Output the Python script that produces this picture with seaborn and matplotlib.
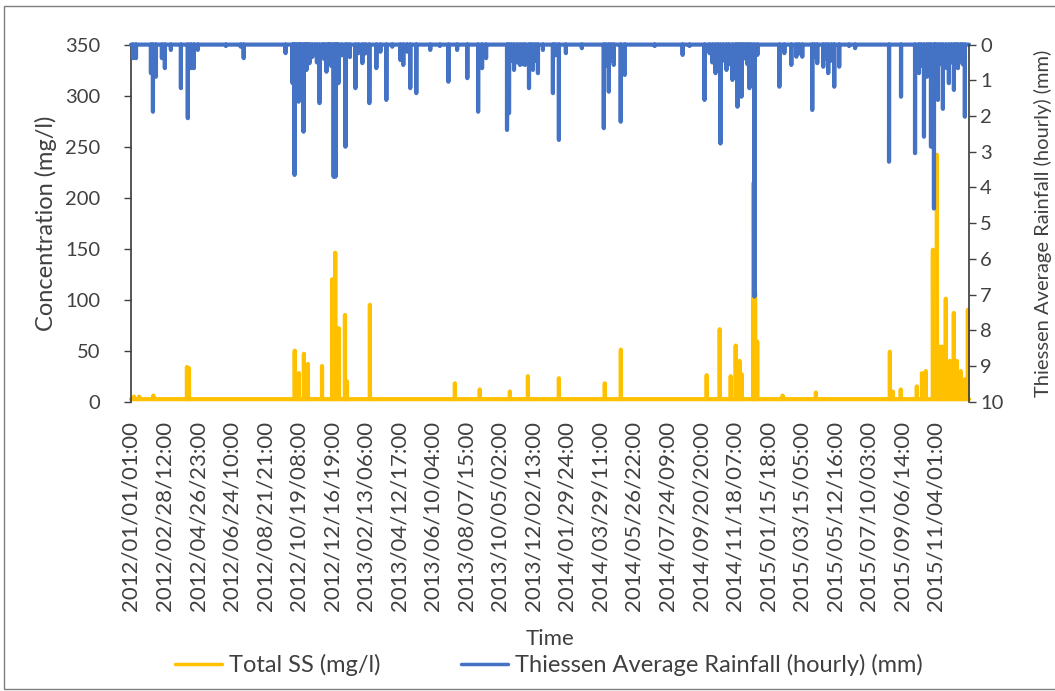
import numpy as np
import pandas as pd
import matplotlib
matplotlib.use("Agg")
import matplotlib.pyplot as plt
from matplotlib.lines import Line2D
from matplotlib.patches import Rectangle
import seaborn as sns

# Hourly record: 2012/01/01 01:00 through 2015/12/31 24:00
RECORD_START = "2012-01-01 01:00"
RECORD_HOURS = 35064
LABEL_STEP = 1403            # one time label every 1403 hourly records

# Dry-weather suspended solids level (mg/l)
ss_base = 2.5

# Thiessen average rainfall, wet hours (mm)
rain_times = [
    "2012-01-04 12:00", "2012-01-09 17:00", "2012-02-04 19:00", "2012-02-08 07:00",
    "2012-02-13 12:00", "2012-02-23 22:00", "2012-02-29 02:00", "2012-03-10 14:00",
    "2012-03-28 01:00", "2012-04-09 02:00", "2012-04-14 07:00", "2012-04-19 14:00",
    "2012-04-26 12:00", "2012-06-14 10:00", "2012-07-10 10:00", "2012-07-15 12:00",
    "2012-09-26 12:00", "2012-10-08 17:00", "2012-10-12 05:00", "2012-10-19 05:00",
    "2012-10-24 10:00", "2012-10-27 19:00", "2012-11-02 01:00", "2012-11-07 07:00",
    "2012-11-16 06:00", "2012-11-24 17:00", "2012-11-29 22:00", "2012-12-06 19:00",
    "2012-12-12 08:00", "2012-12-19 08:00", "2012-12-22 12:00", "2012-12-27 17:00",
    "2013-01-08 22:00", "2013-01-12 10:00", "2013-01-26 07:00", "2013-01-31 12:00",
    "2013-02-07 10:00", "2013-02-19 14:00", "2013-03-03 19:00", "2013-03-10 19:00",
    "2013-03-21 05:00", "2013-03-31 14:00", "2013-04-14 12:00", "2013-04-19 17:00",
    "2013-05-01 22:00", "2013-05-12 10:00", "2013-06-05 17:00", "2013-06-22 12:00",
    "2013-07-07 09:00", "2013-07-22 14:00", "2013-08-09 09:00", "2013-08-28 05:00",
    "2013-09-04 02:00", "2013-09-11 02:00", "2013-10-17 14:00", "2013-10-21 02:00",
    "2013-10-29 19:00", "2013-11-09 05:00", "2013-11-17 22:00", "2013-11-24 22:00",
    "2013-12-01 19:00", "2013-12-10 12:00", "2013-12-19 05:00", "2014-01-05 14:00",
    "2014-01-16 01:00", "2014-01-28 05:00", "2014-02-25 01:00", "2014-04-04 07:00",
    "2014-04-13 01:00", "2014-04-21 17:00", "2014-05-03 19:00", "2014-05-10 19:00",
    "2014-07-02 01:00", "2014-08-19 17:00", "2014-08-31 19:00", "2014-09-26 22:00",
    "2014-10-05 14:00", "2014-10-16 01:00", "2014-10-24 17:00", "2014-11-04 05:00",
    "2014-11-14 14:00", "2014-11-19 19:00", "2014-11-23 07:00", "2014-11-30 07:00",
    "2014-12-07 05:00", "2014-12-14 05:00", "2014-12-22 22:00", "2014-12-28 02:00",
    "2015-02-04 10:00", "2015-02-13 02:00", "2015-02-25 05:00", "2015-03-05 22:00",
    "2015-03-16 07:00", "2015-04-02 17:00", "2015-04-11 10:00", "2015-04-21 22:00",
    "2015-04-30 14:00", "2015-05-11 01:00", "2015-05-19 17:00", "2015-06-06 01:00",
    "2015-06-16 12:00", "2015-08-14 14:00", "2015-09-04 12:00", "2015-09-28 22:00",
    "2015-10-05 19:00", "2015-10-14 12:00", "2015-10-19 17:00", "2015-10-26 17:00",
    "2015-10-31 22:00", "2015-11-07 19:00", "2015-11-16 12:00", "2015-11-26 22:00",
    "2015-12-05 17:00", "2015-12-12 14:00", "2015-12-24 19:00",
    # lighter showers inside the wet spells
    "2012-10-10 03:00", "2012-10-15 09:00", "2012-10-21 16:00", "2012-10-30 08:00",
    "2012-11-04 20:00", "2012-11-11 13:00", "2012-11-20 04:00", "2012-12-02 11:00",
    "2012-12-09 23:00", "2012-12-15 06:00", "2012-12-24 18:00", "2013-01-02 09:00",
    "2013-01-16 14:00", "2013-02-12 08:00", "2013-04-26 15:00", "2013-10-25 11:00",
    "2013-11-04 07:00", "2013-11-13 18:00", "2013-11-28 04:00", "2013-12-06 13:00",
    "2014-01-09 20:00", "2014-04-08 10:00", "2014-04-17 03:00", "2014-10-10 12:00",
    "2014-10-20 06:00", "2014-10-29 21:00", "2014-11-08 10:00", "2014-11-26 15:00",
    "2014-12-03 09:00", "2014-12-10 18:00", "2014-12-18 04:00", "2015-03-10 11:00",
    "2015-04-06 14:00", "2015-04-26 02:00", "2015-05-06 09:00", "2015-10-09 16:00",
    "2015-10-23 05:00", "2015-11-03 11:00", "2015-11-12 04:00", "2015-11-21 20:00",
    "2015-12-01 07:00", "2015-12-09 10:00", "2015-12-17 12:00", "2015-12-20 22:00",
]
rain_mm = [
    0.38, 0.38, 0.80, 1.88,
    0.90, 0.38, 0.66, 0.15,
    1.22, 2.06, 0.66, 0.66,
    0.15, 0.04, 0.06, 0.38,
    0.24, 1.08, 3.65, 1.60,
    1.00, 2.44, 0.71, 0.52,
    0.30, 1.64, 0.34, 0.76,
    0.24, 3.70, 3.70, 1.08,
    2.86, 0.15, 1.22, 0.24,
    0.52, 1.64, 0.66, 0.20,
    1.55, 0.06, 0.43, 0.57,
    1.22, 1.36, 0.15, 0.04,
    1.04, 0.15, 0.94, 1.88,
    0.66, 0.38, 2.39, 1.92,
    0.71, 0.57, 0.57, 1.22,
    0.71, 0.80, 0.15, 1.36,
    2.67, 0.24, 0.10, 2.34,
    1.32, 0.57, 2.16, 0.85,
    0.04, 0.29, 0.04, 1.55,
    0.24, 0.80, 2.77, 0.71,
    0.99, 0.62, 1.74, 1.46,
    0.15, 1.22, 7.06, 0.29,
    1.18, 0.24, 0.57, 0.34,
    0.34, 1.83, 0.52, 0.62,
    0.80, 1.18, 0.62, 0.04,
    0.10, 3.28, 1.46, 3.04,
    0.80, 2.58, 0.90, 2.86,
    4.59, 1.55, 1.80, 1.08,
    1.27, 0.66, 2.02,
    0.55, 0.90, 0.60, 0.70,
    0.45, 0.35, 0.50, 0.40,
    0.55, 0.60, 0.80, 0.30,
    0.35, 0.25, 0.20, 0.45,
    0.50, 0.55, 0.40, 0.45,
    0.30, 0.60, 0.45, 0.50,
    0.60, 0.45, 0.55, 0.50,
    0.40, 0.55, 0.60, 0.25,
    0.35, 0.40, 0.45, 0.60,
    0.70, 0.80, 0.55, 0.65,
    0.50, 0.60, 0.45, 0.55,
]

# Total suspended solids, elevated hours (mg/l)
ss_times = [
    "2012-01-06 01:00", "2012-01-15 01:00", "2012-02-09 01:00", "2012-04-07 14:00",
    "2012-04-11 02:00", "2012-10-12 12:00", "2012-10-19 17:00", "2012-10-28 12:00",
    "2012-11-04 12:00", "2012-11-29 01:00", "2012-12-16 13:00", "2012-12-22 01:00",
    "2012-12-28 13:00", "2013-01-08 01:00", "2013-01-11 13:00", "2013-02-20 13:00",
    "2013-07-18 17:00", "2013-08-31 01:00", "2013-10-22 14:00", "2013-11-23 01:00",
    "2014-01-16 01:00", "2014-04-06 01:00", "2014-05-04 01:00", "2014-09-30 17:00",
    "2014-10-23 10:00", "2014-11-11 14:00", "2014-11-20 07:00", "2014-11-27 01:00",
    "2014-11-30 13:00", "2014-12-20 13:00", "2014-12-22 07:00", "2014-12-24 01:00",
    "2014-12-27 17:00", "2015-02-10 01:00", "2015-04-09 01:00", "2015-08-16 01:00",
    "2015-08-21 01:00", "2015-09-04 01:00", "2015-10-02 01:00", "2015-10-11 01:00",
    "2015-10-17 17:00", "2015-10-30 01:00", "2015-11-06 01:00", "2015-11-09 13:00",
    "2015-11-14 14:00", "2015-11-21 13:00", "2015-11-28 13:00", "2015-12-05 13:00",
    "2015-12-10 17:00", "2015-12-17 17:00", "2015-12-24 17:00", "2015-12-30 01:00",
]
ss_mgl = [
    5, 5, 6, 34,
    33, 50, 28, 47,
    37, 35, 120, 146,
    72, 85, 20, 95,
    18, 12, 10, 25,
    23, 18, 51, 26,
    71, 25, 55, 40,
    27, 214, 162, 108,
    59, 6, 9, 49,
    10, 12, 15, 28,
    30, 149, 242, 54,
    54, 101, 40, 87,
    40, 30, 22, 90,
]

SS_COLOR = "#FFC000"
RAIN_COLOR = "#4472C4"
TEXT_COLOR = "#404040"
LINE_W = 3.0

sns.set_theme(style="white")
plt.rcParams["font.family"] = ["Lato", "DejaVu Sans"]

# Build hourly series on the full record
time = pd.date_range(RECORD_START, periods=RECORD_HOURS, freq="h")
hour_idx = np.arange(RECORD_HOURS)
ss = np.full(RECORD_HOURS, ss_base)
rain = np.zeros(RECORD_HOURS)
ss[time.get_indexer(pd.to_datetime(ss_times))] = ss_mgl
rain[time.get_indexer(pd.to_datetime(rain_times))] = rain_mm
df = pd.DataFrame({"hour": hour_idx, "ss": ss, "rain": rain})


def stamp(t):
    # hourly records run 01:00..24:00, so midnight closes the previous day
    if t.hour == 0:
        d = t - pd.Timedelta(days=1)
        return f"{d:%Y/%m/%d}/24:00"
    return f"{t:%Y/%m/%d/%H}:00"


W, H = 1055, 691
fig = plt.figure(figsize=(W / 100, H / 100), dpi=100)
fig.patch.set_facecolor("white")
fig.add_artist(Rectangle((4 / W, 2 / H), 1.2, 1 - 8 / H, transform=fig.transFigure,
                         fill=False, edgecolor="#7f7f7f", linewidth=1.0))

left, right, top, bottom = 131, 969, 44.6, 401.7
ax = fig.add_axes([left / W, 1 - bottom / H, (right - left) / W, (bottom - top) / H])
ax.set_facecolor("none")

sns.lineplot(data=df, x="hour", y="ss", ax=ax, color=SS_COLOR, linewidth=LINE_W,
             estimator=None, sort=False, legend=False, clip_on=False,
             solid_joinstyle="round", solid_capstyle="round")
ax.set_xlim(0, RECORD_HOURS - 1)
ax.set_ylim(0, 350)
ax.set_yticks(range(0, 351, 50))
tick_pos = np.arange(0, RECORD_HOURS, LABEL_STEP)
ax.set_xticks(tick_pos)
ax.set_xticklabels([stamp(time[i]) for i in tick_pos], rotation=90,
                   fontsize=16, color=TEXT_COLOR)
ax.tick_params(axis="x", length=0, pad=14)
ax.tick_params(axis="y", length=5, width=1, color="#404040", labelsize=14.5,
               labelcolor=TEXT_COLOR, pad=17, left=True)
ax.set_xlabel("Time", fontsize=16, color=TEXT_COLOR, labelpad=13)
ax.set_ylabel("Concentration (mg/l)", fontsize=17, color=TEXT_COLOR, labelpad=6)

ax2 = ax.twinx()
sns.lineplot(data=df, x="hour", y="rain", ax=ax2, color=RAIN_COLOR, linewidth=LINE_W,
             estimator=None, sort=False, legend=False, clip_on=False,
             solid_joinstyle="round", solid_capstyle="round")
ax2.set_ylim(10, 0)
ax2.set_yticks(range(0, 11))
ax2.tick_params(axis="y", length=5, width=1, color="#404040", labelsize=14.5,
                labelcolor=TEXT_COLOR, pad=3, right=True)
ax2.set_ylabel("Thiessen Average Rainfall (hourly) (mm)", fontsize=14.5,
               color=TEXT_COLOR, rotation=90, labelpad=22)
ax2.set_xlabel("")

for a in (ax, ax2):
    for side in ("top", "bottom"):
        a.spines[side].set_visible(False)
    a.spines["left"].set_color("#404040")
    a.spines["right"].set_color("#404040")
    a.grid(False)
ax.spines["right"].set_visible(False)
ax2.spines["left"].set_visible(False)

handles = [Line2D([], [], color=SS_COLOR, linewidth=2.5),
           Line2D([], [], color=RAIN_COLOR, linewidth=2.5)]
fig.legend(handles, ["Total SS (mg/l)", "Thiessen Average Rainfall (hourly) (mm)"],
           loc="center", bbox_to_anchor=(0.52, 0.037), ncol=2, frameon=False,
           fontsize=17, handlelength=2.0, columnspacing=3.4, handletextpad=0.3,
           labelcolor=TEXT_COLOR)

fig.savefig("out.png", dpi=100, facecolor="white")
